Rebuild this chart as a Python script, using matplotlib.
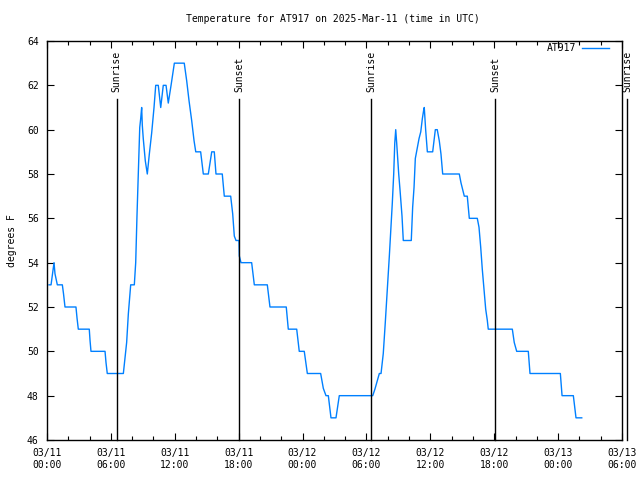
import matplotlib
matplotlib.use("Agg")
import matplotlib.pyplot as plt
from matplotlib.lines import Line2D

# Data: hours since 2025-03-11 00:00 UTC, temperature in F
hours = [0.19, 0.38, 0.52, 0.66, 0.75, 0.97, 1.44, 1.55, 1.69, 2.72, 2.82, 2.94,
         3.97, 4.04, 4.13, 5.45, 5.54, 5.66, 7.17, 7.33, 7.48, 7.64, 7.86, 8.20,
         8.33, 8.45, 8.57, 8.71, 8.80, 8.89, 8.95, 9.04, 9.23, 9.42, 9.61, 9.83,
         10.05, 10.21, 10.45, 10.68, 10.92, 11.18, 11.39, 11.65, 11.96, 12.89,
         13.12, 13.34, 13.59, 13.81, 13.97, 14.43, 14.68, 15.15, 15.47, 15.71,
         15.87, 16.46, 16.65, 17.25, 17.44, 17.59, 17.75, 18.03, 18.06, 18.22,
         19.22, 19.47, 20.69, 20.94, 22.47, 22.66, 23.45, 23.69, 24.16, 24.45,
         25.70, 25.95, 26.20, 26.42, 26.67, 27.14, 27.45, 30.59, 30.80, 31.21,
         31.37, 31.58, 31.77, 31.96, 32.15, 32.31, 32.43, 32.56, 32.66, 32.75,
         32.84, 33.03, 33.15, 33.34, 33.46, 34.21, 34.34, 34.47, 34.59, 34.78,
         34.94, 35.10, 35.25, 35.38, 35.43, 35.56, 35.72, 36.22, 36.47, 36.65,
         36.84, 37.00, 37.16, 38.72, 38.88, 39.04, 39.19, 39.47, 39.66, 40.41,
         40.57, 40.73, 40.88, 41.04, 41.20, 41.35, 41.44, 43.70, 43.88, 44.11,
         45.20, 45.36, 48.21, 48.37, 49.43, 49.68, 50.22]
temps = [53, 53, 53.5, 54, 53.5, 53, 53, 52.6, 52, 52, 51.5, 51,
         51, 50.5, 50, 50, 49.5, 49, 49, 49.7, 50.4, 51.7, 53, 53,
         54, 56.1, 58, 60.1, 60.5, 61, 60.2, 59.6, 58.6, 58, 58.9, 59.85,
         61, 62, 62, 61, 62, 62, 61.2, 62, 63, 63,
         62.2, 61.3, 60.4, 59.5, 59, 59, 58, 58, 59, 59,
         58, 58, 57, 57, 56.2, 55.2, 55, 55, 54.3, 54,
         54, 53, 53, 52, 52, 51, 51, 50, 50, 49,
         49, 48.33, 48, 48, 47, 47, 48, 48, 48.3, 49,
         49, 49.9, 51.3, 52.8, 54.3, 55.7, 56.7, 58, 59.4, 60,
         59.4, 58, 57.3, 56.1, 55, 55, 56.5, 57.4, 58.7, 59.2,
         59.6, 59.9, 60.5, 60.9, 61, 60, 59, 59, 60, 60,
         59.5, 58.9, 58, 58, 57.6, 57.3, 57, 57, 56, 56,
         55.6, 54.7, 53.7, 52.8, 51.9, 51.4, 51, 51, 50.4, 50,
         50, 49, 49, 48, 48, 47, 47]

sun_hours = [6.55, 18.06, 30.46, 42.10, 54.50]
sun_labels = ["Sunrise", "Sunset", "Sunrise", "Sunset", "Sunrise"]

xtick_hours = [0, 6, 12, 18, 24, 30, 36, 42, 48, 54]
xtick_labels = ["03/11\n00:00", "03/11\n06:00", "03/11\n12:00", "03/11\n18:00",
                "03/12\n00:00", "03/12\n06:00", "03/12\n12:00", "03/12\n18:00",
                "03/13\n00:00", "03/13\n06:00"]
yticks = [46, 48, 50, 52, 54, 56, 58, 60, 62, 64]

series_name = "AT917"
title = "Temperature for AT917 on 2025-Mar-11 (time in UTC)"

FONT = "DejaVu Sans Mono"
FS = 7
COLOR = "#0080ff"

fig = plt.figure(figsize=(6.4, 4.8), dpi=100)
ax = fig.add_axes([47/640, 1-440/480, 575/640, 399/480])

ax.plot(hours, temps, color=COLOR, lw=1.0)

ax.set_xlim(0, 54)
ax.set_ylim(46, 64)

for h, lab in zip(sun_hours, sun_labels):
    ax.plot([h, h], [46, 61.4], color="black", lw=1.0, clip_on=False)
    ax.text(h, 61.72, lab, rotation=90, ha="center", va="bottom",
            fontsize=FS, family=FONT, clip_on=False)

ax.set_xticks(xtick_hours)
ax.set_xticklabels(xtick_labels, fontsize=FS, family=FONT, linespacing=1.15)
ax.set_xticks([h for h in range(0, 55, 2) if h % 6 != 0], minor=True)
ax.set_yticks(yticks)
ax.set_yticklabels([str(v) for v in yticks], fontsize=FS, family=FONT)
ax.tick_params(axis="both", which="major", direction="in", length=5, width=0.8,
               top=True, right=True, pad=6)
ax.tick_params(axis="x", which="minor", direction="in", length=3, width=0.8,
               top=True)
for s in ax.spines.values():
    s.set_linewidth(1.0)

ax.set_ylabel("degrees F", fontsize=FS, family=FONT, labelpad=7)
fig.text(333/640, 1-19/480, title, ha="center", va="center", fontsize=FS, family=FONT)

ax.text(0.92, 0.9825, series_name, transform=ax.transAxes, ha="right", va="center",
        fontsize=FS, family=FONT)
ax.add_line(Line2D([0.930, 0.977], [0.9825, 0.9825], transform=ax.transAxes,
                   color=COLOR, lw=1.0))

fig.savefig("out.png", dpi=100)
